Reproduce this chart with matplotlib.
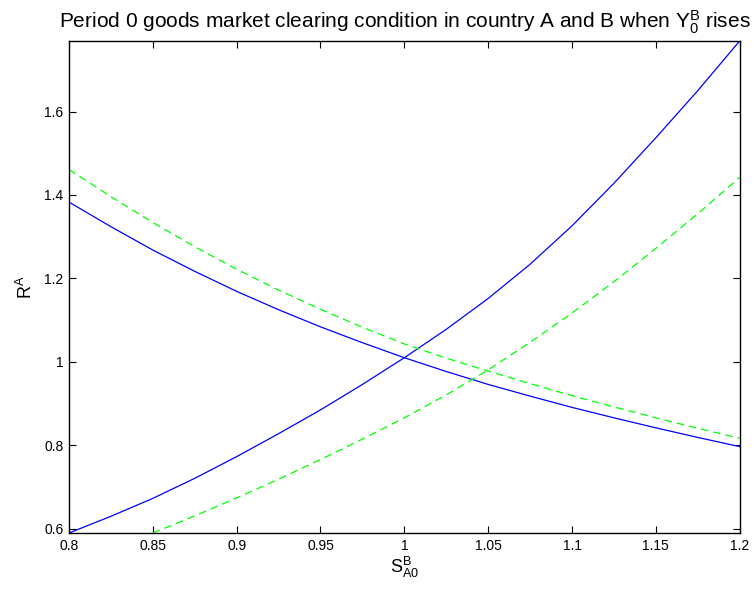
import matplotlib
matplotlib.use("Agg")
import matplotlib.pyplot as plt
from matplotlib.ticker import FuncFormatter

plt.rcParams['font.family'] = ['Liberation Sans', 'DejaVu Sans']
plt.rcParams['mathtext.default'] = 'regular'

# exchange rate grid S_A0^B
s_a0 = [0.800, 0.825, 0.850, 0.875, 0.900, 0.925, 0.950, 0.975, 1.000,
        1.025, 1.050, 1.075, 1.100, 1.125, 1.150, 1.175, 1.200]

# baseline clearing conditions (solid)
r_country_a = [0.590, 0.630, 0.673, 0.721, 0.773, 0.828, 0.885, 0.946, 1.010,
               1.078, 1.152, 1.234, 1.326, 1.428, 1.537, 1.650, 1.769]
r_country_b = [1.383, 1.324, 1.268, 1.217, 1.169, 1.125, 1.084, 1.046, 1.010,
               0.977, 0.946, 0.918, 0.891, 0.866, 0.842, 0.819, 0.797]

# after Y0^B rises (dashed); the rising curve enters the axes at 0.85
s_a0_new = s_a0[2:]
r_country_a_new = [0.590, 0.631, 0.674, 0.719, 0.766, 0.815, 0.866,
                   0.921, 0.981, 1.047, 1.117, 1.192, 1.272, 1.355, 1.442]
r_country_b_new = [1.461, 1.396, 1.334, 1.276, 1.222, 1.172, 1.126, 1.083, 1.043,
                   1.009, 0.978, 0.948, 0.919, 0.892, 0.866, 0.841, 0.817]

fig = plt.figure(figsize=(7.54, 5.94), dpi=100)
ax = fig.add_axes([0.0915, 0.1027, 0.8895, 0.8283])

ax.plot(s_a0, r_country_a, color='#0000ff', lw=0.9)
ax.plot(s_a0, r_country_b, color='#0000ff', lw=0.9)
ax.plot(s_a0_new, r_country_a_new, color='#00ff00', lw=0.9, dashes=(6, 4))
ax.plot(s_a0, r_country_b_new, color='#00ff00', lw=0.9, dashes=(6, 4))

ax.set_xlim(0.8, 1.2)
ax.set_ylim(0.59, 1.769)
ax.set_xticks([0.8, 0.85, 0.9, 0.95, 1.0, 1.05, 1.1, 1.15, 1.2])
ax.set_yticks([0.6, 0.8, 1.0, 1.2, 1.4, 1.6])
fmt = FuncFormatter(lambda v, p: '%g' % round(v, 3))
ax.xaxis.set_major_formatter(fmt)
ax.yaxis.set_major_formatter(fmt)
ax.tick_params(direction='in', length=5, width=0.8, labelsize=10,
               top=True, right=True, pad=4)
for sp in ax.spines.values():
    sp.set_linewidth(1.0)

ax.set_xlabel('$S^B_{A0}$', fontsize=13, labelpad=2)
ax.set_ylabel('$R^A$', fontsize=13, labelpad=6)
ax.set_title('Period 0 goods market clearing condition in country A and B when $Y^B_0$ rises',
             fontsize=15, pad=9)

fig.savefig('out.png', dpi=100)
